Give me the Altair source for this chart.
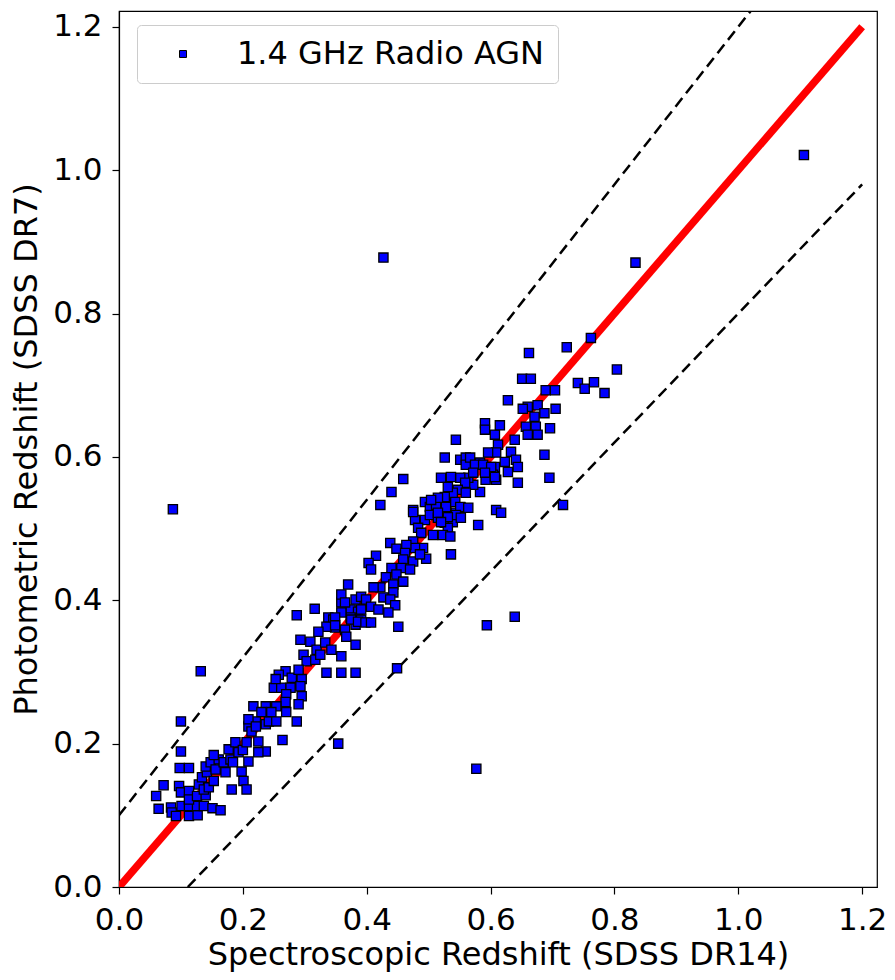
import altair as alt
import pandas as pd

series_name = "1.4 GHz Radio AGN"
x_title = "Spectroscopic Redshift (SDSS DR14)"
y_title = "Photometric Redshift (SDSS DR7)"
tick_values = [0.0, 0.2, 0.4, 0.6, 0.8, 1.0, 1.2]

spec_z = [
    0.100, 0.100, 0.098, 0.113, 0.072, 0.060, 0.097, 0.100, 0.113, 0.064,
    0.084, 0.085, 0.092, 0.101, 0.113, 0.113, 0.127, 0.126, 0.137, 0.151,
    0.164, 0.113, 0.126, 0.140, 0.129, 0.137, 0.145, 0.134, 0.142, 0.153,
    0.140, 0.148, 0.156, 0.161, 0.153, 0.169, 0.172, 0.177, 0.180, 0.184,
    0.188, 0.193, 0.200, 0.206, 0.209, 0.214, 0.221, 0.225, 0.237, 0.225,
    0.209, 0.198, 0.201, 0.182, 0.206, 0.237, 0.242, 0.132, 0.264, 0.354,
    0.316, 0.287, 0.359, 0.374, 0.386, 0.374, 0.391, 0.382, 0.338, 0.346,
    0.349, 0.335, 0.322, 0.365, 0.367, 0.293, 0.309, 0.319, 0.333, 0.343,
    0.359, 0.382, 0.298, 0.303, 0.317, 0.325, 0.335, 0.359, 0.382, 0.269,
    0.279, 0.295, 0.290, 0.258, 0.250, 0.262, 0.277, 0.293, 0.295, 0.270,
    0.253, 0.290, 0.269, 0.254, 0.237, 0.217, 0.230, 0.246, 0.209, 0.254,
    0.270, 0.287, 0.221,
    0.422, 0.475, 0.494, 0.502, 0.512, 0.528, 0.543, 0.552, 0.544, 0.478,
    0.494, 0.502, 0.515, 0.526, 0.539, 0.531, 0.507, 0.523, 0.535, 0.483,
    0.488, 0.475, 0.491, 0.478, 0.464, 0.536, 0.438, 0.448, 0.462, 0.459,
    0.475, 0.496, 0.486, 0.415, 0.403, 0.407, 0.440, 0.456, 0.470, 0.448,
    0.431, 0.459, 0.422, 0.411, 0.443, 0.443, 0.427, 0.438, 0.446, 0.435,
    0.370, 0.359, 0.365, 0.382, 0.391, 0.399, 0.407, 0.419, 0.391, 0.359,
    0.349, 0.375, 0.386, 0.398, 0.407, 0.349, 0.451, 0.449,
    0.628, 0.660, 0.676, 0.687, 0.671, 0.657, 0.673, 0.660, 0.676, 0.591,
    0.591, 0.607, 0.615, 0.544, 0.639, 0.612, 0.609, 0.633, 0.596, 0.623,
    0.641, 0.644, 0.628, 0.687, 0.526, 0.551, 0.560, 0.560, 0.583, 0.592,
    0.596, 0.607, 0.604, 0.609, 0.592, 0.583, 0.572, 0.564, 0.551, 0.536,
    0.520, 0.459, 0.644, 0.559, 0.547, 0.560, 0.539, 0.531, 0.526, 0.515,
    0.504, 0.551, 0.564, 0.544, 0.531, 0.515, 0.475, 0.520, 0.552, 0.580,
    0.609, 0.617, 0.695, 0.762, 0.723, 0.662, 0.804, 0.651, 0.665, 0.741,
    0.752, 0.767, 0.784, 0.689, 0.704, 0.652, 0.705, 0.696, 0.567, 0.575,
    0.588, 0.601, 0.572, 0.591, 0.607, 0.717, 0.440,
    0.087, 0.427, 1.106, 0.834, 0.577, 0.594, 0.639,
]

phot_z = [
    0.231, 0.189, 0.166, 0.166, 0.142, 0.127, 0.141, 0.132, 0.134, 0.109,
    0.111, 0.104, 0.099, 0.113, 0.113, 0.099, 0.100, 0.113, 0.113, 0.110,
    0.107, 0.122, 0.127, 0.128, 0.143, 0.136, 0.139, 0.153, 0.160, 0.148,
    0.168, 0.174, 0.164, 0.178, 0.184, 0.174, 0.160, 0.192, 0.178, 0.174,
    0.202, 0.188, 0.191, 0.202, 0.224, 0.217, 0.231, 0.203, 0.189, 0.188,
    0.175, 0.161, 0.148, 0.136, 0.136, 0.227, 0.231, 0.301, 0.205, 0.200,
    0.388, 0.379, 0.397, 0.387, 0.384, 0.376, 0.373, 0.366, 0.376, 0.373,
    0.362, 0.363, 0.356, 0.359, 0.349, 0.345, 0.342, 0.331, 0.341, 0.331,
    0.322, 0.338, 0.324, 0.315, 0.317, 0.324, 0.299, 0.299, 0.299, 0.301,
    0.292, 0.290, 0.303, 0.296, 0.278, 0.278, 0.278, 0.280, 0.266, 0.269,
    0.290, 0.255, 0.258, 0.252, 0.252, 0.252, 0.244, 0.244, 0.234, 0.231,
    0.244, 0.231, 0.224,
    0.533, 0.526, 0.537, 0.530, 0.533, 0.530, 0.537, 0.529, 0.522, 0.512,
    0.512, 0.519, 0.515, 0.508, 0.509, 0.501, 0.491, 0.491, 0.489, 0.501,
    0.494, 0.482, 0.473, 0.473, 0.477, 0.464, 0.480, 0.472, 0.466, 0.457,
    0.454, 0.458, 0.464, 0.462, 0.452, 0.443, 0.445, 0.445, 0.443, 0.436,
    0.432, 0.426, 0.418, 0.418, 0.422, 0.411, 0.404, 0.401, 0.393, 0.383,
    0.422, 0.408, 0.397, 0.401, 0.405, 0.401, 0.391, 0.387, 0.387, 0.383,
    0.376, 0.373, 0.370, 0.369, 0.369, 0.365, 0.363, 0.305,
    0.679, 0.670, 0.672, 0.661, 0.656, 0.642, 0.642, 0.631, 0.631, 0.647,
    0.638, 0.631, 0.644, 0.624, 0.624, 0.617, 0.606, 0.607, 0.606, 0.593,
    0.596, 0.586, 0.579, 0.603, 0.599, 0.596, 0.599, 0.589, 0.592, 0.586,
    0.579, 0.586, 0.575, 0.568, 0.568, 0.551, 0.561, 0.571, 0.571, 0.572,
    0.571, 0.569, 0.564, 0.564, 0.554, 0.550, 0.550, 0.558, 0.544, 0.543,
    0.540, 0.530, 0.529, 0.519, 0.516, 0.522, 0.523, 0.509, 0.515, 0.505,
    0.526, 0.522, 0.571, 0.766, 0.753, 0.745, 0.722, 0.709, 0.709, 0.703,
    0.695, 0.704, 0.689, 0.693, 0.693, 0.667, 0.667, 0.640, 0.599, 0.589,
    0.589, 0.586, 0.578, 0.578, 0.572, 0.533, 0.551,
    0.527, 0.878, 1.021, 0.871, 0.165, 0.365, 0.377,
]

# reference lines: one-to-one and the +/- 0.1(1+z) envelope
line_x = [0.0, 1.2]
one_y = [0.0, 1.2]
upper_y = [0.1, 1.42]
lower_x = [0.1111, 1.2]
lower_y = [0.0, 0.98]

FONT = "DejaVu Sans"

pts = pd.DataFrame({"spec": spec_z, "phot": phot_z, "label": series_name})
one_df = pd.DataFrame({"x": line_x, "y": one_y})
up_df = pd.DataFrame({"x": line_x, "y": upper_y})
lo_df = pd.DataFrame({"x": lower_x, "y": lower_y})

xs = alt.Scale(domain=[0, 1.224], nice=False, zero=False)
ys = alt.Scale(domain=[0, 1.222], nice=False, zero=False)

axis_style = dict(
    values=tick_values, format=".1f", labelFlush=False, labelOverlap=False,
    grid=False, domainColor="black", domainWidth=1.2, tickColor="black",
    tickSize=7, tickWidth=1.2, labelFont=FONT, labelFontSize=31, labelColor="black",
    titleFont=FONT, titleFontSize=32, titleFontWeight="normal", titleColor="black",
)
x_axis = alt.Axis(title=x_title, labelPadding=11, titlePadding=4, **axis_style)
y_axis = alt.Axis(title=y_title, labelPadding=10, titlePadding=9, **axis_style)


def ref_line(df, color, width, dash=None):
    kw = dict(color=color, strokeWidth=width, clip=True)
    if dash is not None:
        kw["strokeDash"] = dash
    return alt.Chart(df).mark_line(**kw).encode(
        x=alt.X("x:Q", scale=xs, axis=x_axis),
        y=alt.Y("y:Q", scale=ys, axis=y_axis),
    )


upper = ref_line(up_df, "black", 2.5, [11, 6])
lower = ref_line(lo_df, "black", 2.5, [11, 6])
one = ref_line(one_df, "#ff0000", 7.5)

scatter = alt.Chart(pts).mark_square(
    filled=True, stroke="black", strokeWidth=1.3, size=85, opacity=1
).encode(
    x=alt.X("spec:Q", scale=xs, axis=x_axis),
    y=alt.Y("phot:Q", scale=ys, axis=y_axis),
    color=alt.Color(
        "label:N",
        scale=alt.Scale(domain=[series_name], range=["#0000ff"]),
        legend=alt.Legend(
            title=None, orient="none", legendX=18, legendY=14,
            padding=13, strokeColor="#cccccc", fillColor="white", cornerRadius=4,
            symbolType="square", symbolSize=49, symbolStrokeColor="black",
            symbolStrokeWidth=1, symbolOffset=17, labelOffset=38, labelLimit=0,
            labelFont=FONT, labelFontSize=32, labelColor="black",
        ),
    ),
)

chart = alt.layer(upper, lower, one, scatter).properties(
    width=758, height=876,
    autosize=alt.AutoSizeParams(type="none"),
    padding={"left": 111, "top": 3, "right": 10, "bottom": 85},
    background="white",
).configure_view(
    stroke="black", strokeWidth=1.2
)

chart.save("out.html", embed_options={"renderer": "svg", "actions": False})
